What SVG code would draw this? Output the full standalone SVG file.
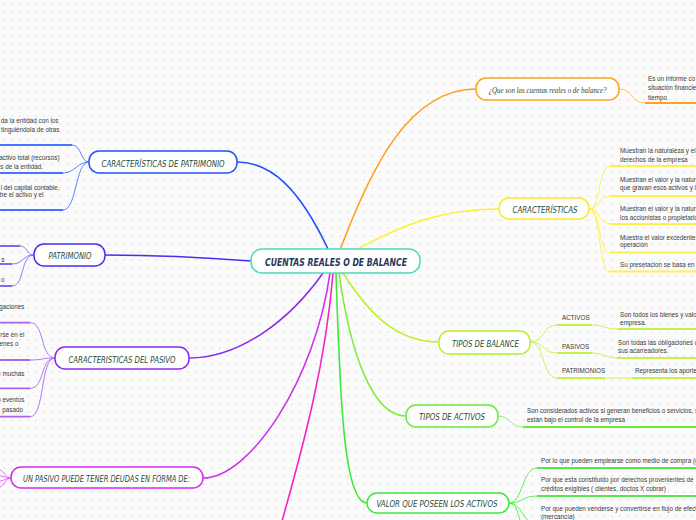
<svg xmlns="http://www.w3.org/2000/svg" width="696" height="520" viewBox="0 0 696 520">
<defs>
<pattern id="grid" width="8" height="8" patternUnits="userSpaceOnUse">
<path d="M4,3 V5 M3,4 H5" stroke="#dedede" stroke-width="0.6"/>
</pattern>
</defs>
<style>
.node{fill:#ffffff;stroke-width:1.5}
.nt{font-family:"DejaVu Sans",sans-serif;font-style:oblique;font-size:8.5px;fill:#1d4a3a;text-anchor:middle}
.ct{font-family:"DejaVu Sans",sans-serif;font-style:oblique;font-weight:bold;font-size:10px;fill:#27365a;text-anchor:middle}
.st{font-family:"Liberation Serif",serif;font-style:italic;font-size:9px;fill:#1d4a3a;text-anchor:middle}
.bt{font-family:"Liberation Sans",Arial,sans-serif;font-size:6.3px;fill:#3a3a3a}
.be{font-family:"Liberation Sans",Arial,sans-serif;font-size:6.3px;fill:#3a3a3a;text-anchor:end}
.c{fill:none;stroke-width:1.6;stroke-linecap:round}
.s{fill:none;stroke-width:0.9}
.u{fill:none;stroke-width:1.8}
</style>
<rect width="696" height="520" fill="#fbfbfb"/>
<rect width="696" height="520" fill="url(#grid)"/>

<g id="connectors">
<!-- main branches -->
<path class="c" stroke="#ff9d1c" d="M340,250 C 372,165 410,89 476,89"/>
<path class="c" stroke="#fff02a" d="M356,250 C 400,226 440,209 499,209"/>
<path class="c" stroke="#bdf02c" d="M343,273 C 368,312 395,342 439,342"/>
<path class="c" stroke="#7eee3a" d="M339,273 C 350,352 372,416 406,416"/>
<path class="c" stroke="#3ee83a" d="M336,273 C 340,400 344,503 367,503"/>
<path class="c" stroke="#2252f5" d="M328,249 C 300,190 272,162 237,162"/>
<path class="c" stroke="#4430ee" d="M251,261 C 200,257 150,255 105,255"/>
<path class="c" stroke="#8a2af0" d="M323,273 C 290,320 240,358 189,358"/>
<path class="c" stroke="#cc30f0" d="M330,273 C 315,380 250,478 203,478"/>
<path class="c" stroke="#f526c8" d="M333,273 C 326,360 305,440 282,521"/>

<!-- orange child -->
<path class="s" stroke="#ffbb55" d="M619,89 C 633,89 631,103 645,103"/>
<path class="u" stroke="#ffa01e" d="M645,103 H696"/>

<!-- yellow children -->
<g stroke="#fff04a">
<path class="s" d="M589,209 C 601,209 598,166 610,166"/>
<path class="s" d="M589,209 C 601,209 598,196 610,196"/>
<path class="s" d="M589,209 C 601,209 598,224 610,224"/>
<path class="s" d="M589,209 C 601,209 598,252.5 610,252.5"/>
<path class="s" d="M589,209 C 601,209 598,271.5 610,271.5"/>
<path class="u" d="M610,166 H696 M610,196 H696 M610,224 H696 M610,252.5 H696 M610,271.5 H696"/>
</g>

<!-- tipos de balance children -->
<g stroke="#c4f24a">
<path class="s" d="M530,342 C 545,342 542,325 557,325"/>
<path class="s" d="M530,342 C 545,342 542,353 557,353"/>
<path class="s" d="M530,342 C 545,342 542,378 557,378"/>
<path class="s" d="M592,325 C 604,325 605,329 617,329"/>
<path class="s" d="M592,353 C 604,353 605,358 617,358"/>
<path class="s" d="M605,378 H632"/>
<path class="u" d="M557,325 H592 M557,353 H592 M557,378 H605 M617,329 H696 M617,358 H696 M632,378 H696"/>
</g>

<!-- tipos de activos child -->
<path class="s" stroke="#88ee55" d="M498,416 C 511,416 510,427 523,427"/>
<path class="u" stroke="#6ee83a" d="M523,427 H696"/>

<!-- valor children -->
<g stroke="#55e84a">
<path class="s" d="M509,503 C 523,503 522,468 537,468"/>
<path class="s" d="M509,503 C 523,503 522,496 537,496"/>
<path class="s" d="M509,503 C 523,503 522,524 537,524"/>
<path class="s" d="M509,503 C 522,503 520,540 530,560"/>
<path class="u" d="M537,468 H696 M537,496 H696"/>
</g>

<!-- patrimonio characteristics children -->
<g stroke="#4a74ff">
<path class="s" d="M89,162 C 80,162 82,145 72,145"/>
<path class="s" d="M89,162 C 77,162 75,173 63,173"/>
<path class="s" d="M89,162 C 75,162 77,210 63,210"/>
<path class="u" d="M0,145 H72 M0,173 H63 M0,210 H63"/>
</g>

<!-- patrimonio children -->
<g stroke="#7a6cf0">
<path class="s" d="M34,255 C 26,255 28,246 20,246"/>
<path class="s" d="M34,255 C 22,255 24,264 12,264"/>
<path class="s" d="M34,255 C 20,255 25,286 12,286"/>
<path class="u" d="M0,246 H20 M0,264 H12 M0,286 H12"/>
</g>

<!-- pasivo children -->
<g stroke="#a866f0">
<path class="s" d="M55,358 C 40,358 45,322.7 30,322.7"/>
<path class="s" d="M55,358 C 42,358 43,360 30,360"/>
<path class="s" d="M55,358 C 40,358 45,388.3 30,388.3"/>
<path class="s" d="M55,358 C 40,358 45,416.7 30,416.7"/>
<path class="u" d="M0,322.7 H30 M0,360 H30 M0,388.3 H30 M0,416.7 H30"/>
</g>

<!-- deudas children -->
<g stroke="#e060f5">
<path class="s" d="M11,478 C 6,478 4,471 0,470"/>
<path class="s" d="M11,478 C 6,478 4,476 0,476"/>
<path class="s" d="M11,478 C 6,478 4,481 0,481"/>
<path class="s" d="M11,478 C 6,478 4,486 0,487"/>
</g>
</g>

<g id="center">
<rect class="node" x="251" y="249" width="169" height="24" rx="11" stroke="#4fd8be"/>
<text class="ct" x="336" y="265.5" textLength="142" lengthAdjust="spacingAndGlyphs">CUENTAS REALES O DE BALANCE</text>
</g>

<g id="que-son">
<rect class="node" x="476" y="78" width="143" height="22" rx="10" stroke="#ffa31e"/>
<text class="st" x="547.5" y="92.5" textLength="118" lengthAdjust="spacingAndGlyphs">¿Que son las cuentas reales o de balance?</text>
<text class="bt" x="648" y="80.5">Es un informe co</text>
<text class="bt" x="648" y="90">situación financie</text>
<text class="bt" x="648" y="99.5">tiempo</text>
</g>

<g id="caracteristicas">
<rect class="node" x="499" y="198" width="90" height="21" rx="10" stroke="#fbe92a"/>
<text class="nt" x="545" y="212.5" textLength="65" lengthAdjust="spacingAndGlyphs">CARACTERÍSTICAS</text>
<text class="bt" x="620" y="152.8">Muestran la naturaleza y el</text>
<text class="bt" x="620" y="161.5">derechos de la empresa</text>
<text class="bt" x="620" y="182.2">Muestran el valor y la natura</text>
<text class="bt" x="620" y="189.5">que gravan esos activos y lo</text>
<text class="bt" x="620" y="211.2">Muestran el valor y la natura</text>
<text class="bt" x="620" y="219.5">los accionistas o propietario</text>
<text class="bt" x="620" y="239.5">Muestra el valor excedente</text>
<text class="bt" x="620" y="247.2">operación</text>
<text class="bt" x="620" y="266.5">Su presetacion se basa en e</text>
</g>

<g id="tipos-balance">
<rect class="node" x="439" y="331" width="91" height="23" rx="10" stroke="#b8f02c"/>
<text class="nt" x="485.5" y="346.5" textLength="67" lengthAdjust="spacingAndGlyphs">TIPOS DE BALANCE</text>
<text class="bt" x="562" y="320">ACTIVOS</text>
<text class="bt" x="562" y="349">PASIVOS</text>
<text class="bt" x="562" y="373">PATRIMONIOS</text>
<text class="bt" x="620" y="316.5">Son todos los bienes y valo</text>
<text class="bt" x="620" y="324.5">empresa.</text>
<text class="bt" x="618" y="344.5">Son todas las obligaciones c</text>
<text class="bt" x="618" y="353.2">sus acarreadores.</text>
<text class="bt" x="635" y="373">Representa los aporte</text>
</g>

<g id="tipos-activos">
<rect class="node" x="406" y="405" width="92" height="22" rx="10" stroke="#6aea3a"/>
<text class="nt" x="452" y="419.5" textLength="66" lengthAdjust="spacingAndGlyphs">TIPOS DE ACTIVOS</text>
<text class="bt" x="527" y="413">Son considerados activos si generan beneficios o servicios, s</text>
<text class="bt" x="527" y="421.5">están bajo el control de la empresa</text>
</g>

<g id="valor">
<rect class="node" x="367" y="493" width="142" height="20" rx="10" stroke="#3ee83a"/>
<text class="nt" x="437" y="506.5" textLength="121" lengthAdjust="spacingAndGlyphs">VALOR QUE POSEEN LOS ACTIVOS</text>
<text class="bt" x="541" y="463">Por lo que pueden emplearse como medio de compra (c</text>
<text class="bt" x="541" y="482.2">Por que esta constituido por derechos provenientes de</text>
<text class="bt" x="541" y="491.2">créditos exigibles ( clientes, doctos X cobrar)</text>
<text class="bt" x="541" y="510.5">Por que pueden venderse y convertirse en flujo de efect</text>
<text class="bt" x="541" y="519">(mercancía)</text>
</g>

<g id="car-patrimonio">
<rect class="node" x="89" y="151" width="148" height="22" rx="10" stroke="#2252f5"/>
<text class="nt" x="163" y="166.5" textLength="123" lengthAdjust="spacingAndGlyphs">CARACTERÍSTICAS DE PATRIMONIO</text>
<text class="be" x="58.5" y="123">da la entidad con los</text>
<text class="be" x="59.5" y="131.5">tinguiéndola de otras</text>
<text class="be" x="59.5" y="159.5">activo total (recursos)</text>
<text class="be" x="43" y="169">es de la entidad.</text>
<text class="be" x="59.5" y="189.5">l del capital contable,</text>
<text class="be" x="43.5" y="197.2">tre el activo y el</text>
</g>

<g id="patrimonio">
<rect class="node" x="34" y="244" width="71" height="22" rx="10" stroke="#4430ee"/>
<text class="nt" x="70" y="259" textLength="43" lengthAdjust="spacingAndGlyphs">PATRIMONIO</text>
<text class="be" x="4.5" y="261.5">s</text>
<text class="be" x="4.5" y="281.5">o</text>
</g>

<g id="car-pasivo">
<rect class="node" x="55" y="347" width="134" height="22" rx="10" stroke="#8a2af0"/>
<text class="nt" x="122" y="362.5" textLength="107" lengthAdjust="spacingAndGlyphs">CARACTERISTICAS DEL PASIVO</text>
<text class="be" x="24.5" y="309">gaciones</text>
<text class="be" x="24.5" y="337.2">rse en el</text>
<text class="be" x="18.5" y="345.5">enes o</text>
<text class="be" x="24.5" y="375.5">e muchas</text>
<text class="be" x="24.5" y="402.2">o eventos</text>
<text class="be" x="23" y="411.5">pasado</text>
</g>

<g id="deudas">
<rect class="node" x="11" y="467" width="192" height="21" rx="10" stroke="#d828f0"/>
<text class="nt" x="106.5" y="482" textLength="167" lengthAdjust="spacingAndGlyphs">UN PASIVO PUEDE TENER DEUDAS EN FORMA DE:</text>
</g>
</svg>
